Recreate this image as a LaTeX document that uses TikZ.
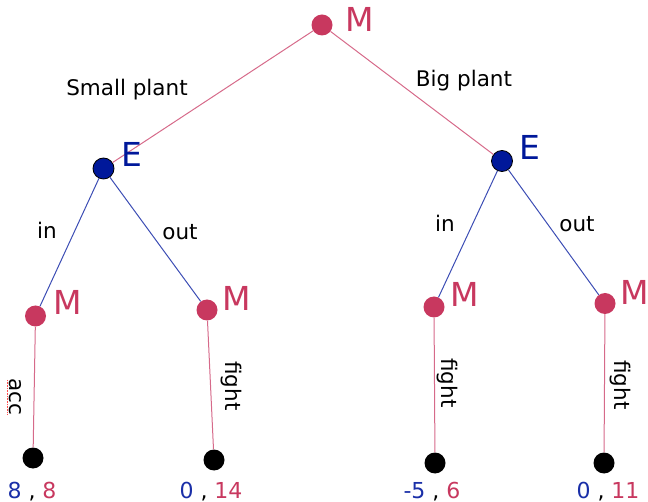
\documentclass[tikz,border=0pt]{standalone}
\usepackage{fontspec}
\setmainfont{DejaVu Sans}
\definecolor{mcol}{HTML}{C8385F}
\definecolor{mline}{HTML}{D66A8A}
\definecolor{ecol}{HTML}{00189A}
\definecolor{eline}{HTML}{3C4DB4}
\definecolor{pblue}{HTML}{1A2FA8}
\begin{document}
\begin{tikzpicture}[x=1pt,y=-1pt,
  mnode/.style={circle,fill=mcol,inner sep=0pt,minimum size=21pt},
  enode/.style={circle,fill=ecol,draw=black,line width=0.8pt,inner sep=0pt,minimum size=21pt},
  leafnode/.style={circle,fill=black,inner sep=0pt,minimum size=21pt},
  mlab/.style={text=mcol,font=\fontsize{33}{36}\selectfont,anchor=base,inner sep=0pt},
  elab/.style={text=ecol,font=\fontsize{33}{36}\selectfont,anchor=base,inner sep=0pt},
  edgelab/.style={font=\fontsize{21.5}{24}\selectfont,anchor=base,inner sep=0pt},
  vlab/.style={font=\fontsize{21.5}{24}\selectfont,rotate=-90,inner sep=0pt},
  pay/.style={font=\fontsize{22}{24}\selectfont,anchor=base,inner sep=0pt},
  medge/.style={draw=mline,line width=1pt},
  eedge/.style={draw=eline,line width=1pt}]
\useasboundingbox (0,0) rectangle (648,502);
% nodes
\node[mnode] (r) at (322,25) {};
\node[enode] (e1) at (103.5,168.5) {};
\node[enode] (e2) at (502,161) {};
\node[mnode] (m1) at (35.5,316) {};
\node[mnode] (m2) at (207,310) {};
\node[mnode] (m3) at (434,307) {};
\node[mnode] (m4) at (605,303.5) {};
\node[leafnode] (l1) at (33,458) {};
\node[leafnode] (l2) at (214,460) {};
\node[leafnode] (l3) at (435,463) {};
\node[leafnode] (l4) at (604,463) {};
% edges
\draw[medge] (r) -- (e1);
\draw[medge] (r) -- (e2);
\draw[eedge] (e1) -- (m1);
\draw[eedge] (e1) -- (m2);
\draw[eedge] (e2) -- (m3);
\draw[eedge] (e2) -- (m4);
\draw[medge] (m1) -- (l1);
\draw[medge] (m2) -- (l2);
\draw[medge] (m3) -- (l3);
\draw[medge] (m4) -- (l4);
% player labels
\node[mlab] (tr) at (360,32) {M};
\node[elab] (te1) at (132,167) {E};
\node[elab] (te2) at (530,160) {E};
\node[mlab] (tm1) at (68,315) {M};
\node[mlab] (tm2) at (237,311) {M};
\node[mlab] (tm3) at (465,307) {M};
\node[mlab] (tm4) at (635,305) {M};
% edge labels
\node[edgelab] (a1) at (127,96) {Small plant};
\node[edgelab] (a2) at (464,87) {Big plant};
\node[edgelab] (a3) at (47,239) {in};
\node[edgelab] (a4) at (180,240) {out};
\node[edgelab] (a5) at (445,232) {in};
\node[edgelab] (a6) at (577,232) {out};
\node[vlab] (a7) at (15,397) {acc};
\draw[draw=red!70,line width=0.6pt,densely dotted] (7,380) -- (7,414);
\node[vlab] (a8) at (231,386) {fight};
\node[vlab] (a9) at (447,383) {fight};
\node[vlab] (a10) at (620,385) {fight};
% payoffs
\node[pay] (p1) at (32,498) {\textcolor{pblue}{8} , \textcolor{mcol}{8}};
\node[pay] (p2) at (211,498) {\textcolor{pblue}{0} , \textcolor{mcol}{14}};
\node[pay] (p3) at (432,498) {\textcolor{pblue}{-5} , \textcolor{mcol}{6}};
\node[pay] (p4) at (608,498) {\textcolor{pblue}{0} , \textcolor{mcol}{11}};
\end{tikzpicture}
\end{document}
